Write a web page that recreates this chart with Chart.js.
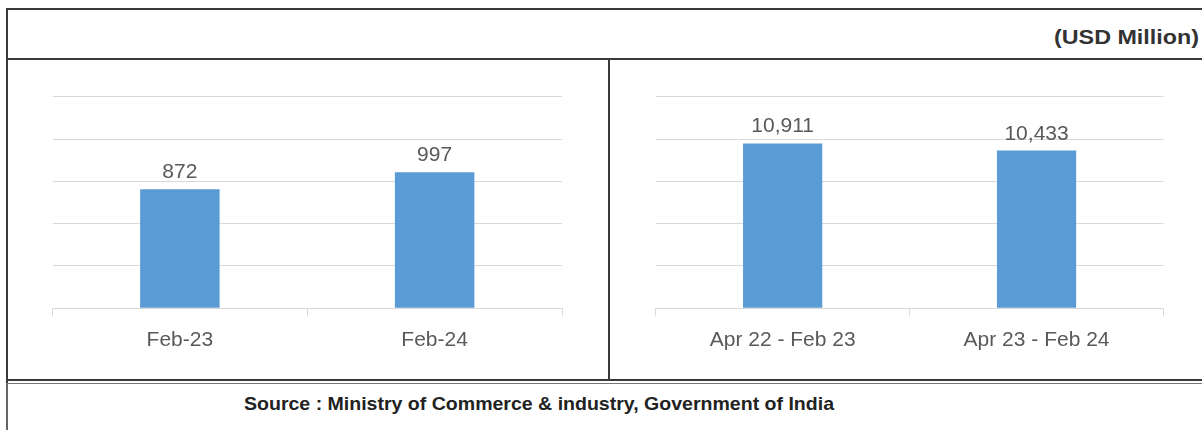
<!DOCTYPE html>
<html>
<head>
<meta charset="utf-8">
<script src="https://cdn.jsdelivr.net/npm/chart.js@4.4.0/dist/chart.umd.min.js"></script>
<style>
  html, body { margin: 0; padding: 0; background: #fff; }
  body { width: 1202px; height: 430px; position: relative; overflow: hidden; font-family: "Liberation Sans", Arial, sans-serif; }
  .line { position: absolute; background: #3a3a3a; }
  .box { position: absolute; }
  .txt { position: absolute; white-space: nowrap; font-weight: bold; color: #222; transform-origin: left center; }
</style>
</head>
<body>
  <!-- frame of the table -->
  <div class="line" style="left:6px; top:8px; width:1196px; height:2px;"></div>
  <div class="line" style="left:6px; top:58px; width:1196px; height:2px;"></div>
  <div class="line" style="left:6px; top:8px; width:2px; height:376px;"></div>
  <div class="line" style="left:6px; top:384px; width:1.5px; height:46px; background:#666;"></div>
  <div class="line" style="left:608px; top:58px; width:2px; height:322px;"></div>
  <div class="line" style="left:6px; top:379px; width:1196px; height:2px;"></div>
  <div class="line" style="left:6px; top:383px; width:1196px; height:1px; background:#777;"></div>

  <span class="txt" id="unit" style="font-size:20px; color:#333;">(USD Million)</span>
  <span class="txt" id="source" style="font-size:19px;">Source : Ministry of Commerce &amp; industry, Government of India</span>

  <div class="box" style="left:9px; top:61px; width:599px; height:318px;"><canvas id="monthChart"></canvas></div>
  <div class="box" style="left:611px; top:61px; width:591px; height:318px;"><canvas id="periodChart"></canvas></div>

<script>
// month comparison
const monthLabels = ["Feb-23", "Feb-24"];
const monthValues = [872, 997];

// cumulative period comparison
const periodLabels = ["Apr 22 - Feb 23", "Apr 23 - Feb 24"];
const periodValues = [10911, 10433];

// fit a text element to a measured width in the picture
function fitText(id, left, right, centerY) {
  const el = document.getElementById(id);
  const w = el.getBoundingClientRect().width;
  const h = el.getBoundingClientRect().height;
  el.style.left = left + "px";
  el.style.top = (centerY - h / 2) + "px";
  el.style.transform = "scaleX(" + ((right - left) / w) + ")";
}
fitText("unit", 1054, 1199, 37);
fitText("source", 244, 834, 404);

const valueLabels = {
  id: "valueLabels",
  afterDatasetsDraw(chart) {
    const ctx = chart.ctx;
    const meta = chart.getDatasetMeta(0);
    ctx.save();
    ctx.font = "21px 'Liberation Sans', Arial, sans-serif";
    ctx.fillStyle = "#595959";
    ctx.textAlign = "center";
    ctx.textBaseline = "alphabetic";
    meta.data.forEach((bar, i) => {
      const v = chart.data.datasets[0].data[i];
      ctx.fillText(v.toLocaleString("en-US"), bar.x, bar.y - 11);
    });
    ctx.restore();
  }
};

function makeChart(id, labels, values, max, step, padLeft, padRight) {
  return new Chart(document.getElementById(id).getContext("2d"), {
    type: "bar",
    data: {
      labels,
      datasets: [{
        data: values,
        backgroundColor: "#5b9bd5",
        categoryPercentage: 1,
        barPercentage: 0.312
      }]
    },
    options: {
      responsive: true,
      maintainAspectRatio: false,
      animation: false,
      layout: { padding: { left: padLeft, right: padRight, top: 35.7, bottom: 15.5 } },
      plugins: { legend: { display: false }, tooltip: { enabled: false } },
      scales: {
        x: {
          grid: { offset: true, drawOnChartArea: false, drawTicks: true, tickLength: 8, color: "#d9d9d9" },
          border: { display: true, color: "#d9d9d9" },
          ticks: { color: "#595959", padding: 11, font: { size: 21, family: "'Liberation Sans', Arial, sans-serif" } }
        },
        y: {
          min: 0,
          max,
          ticks: { display: false, stepSize: step },
          grid: { drawTicks: false, color: "#d9d9d9" },
          border: { display: false }
        }
      }
    },
    plugins: [valueLabels]
  });
}

makeChart("monthChart", monthLabels, monthValues, 1550, 310, 43.5, 46);
makeChart("periodChart", periodLabels, periodValues, 14000, 2800, 44.7, 38.5);
</script>
</body>
</html>
